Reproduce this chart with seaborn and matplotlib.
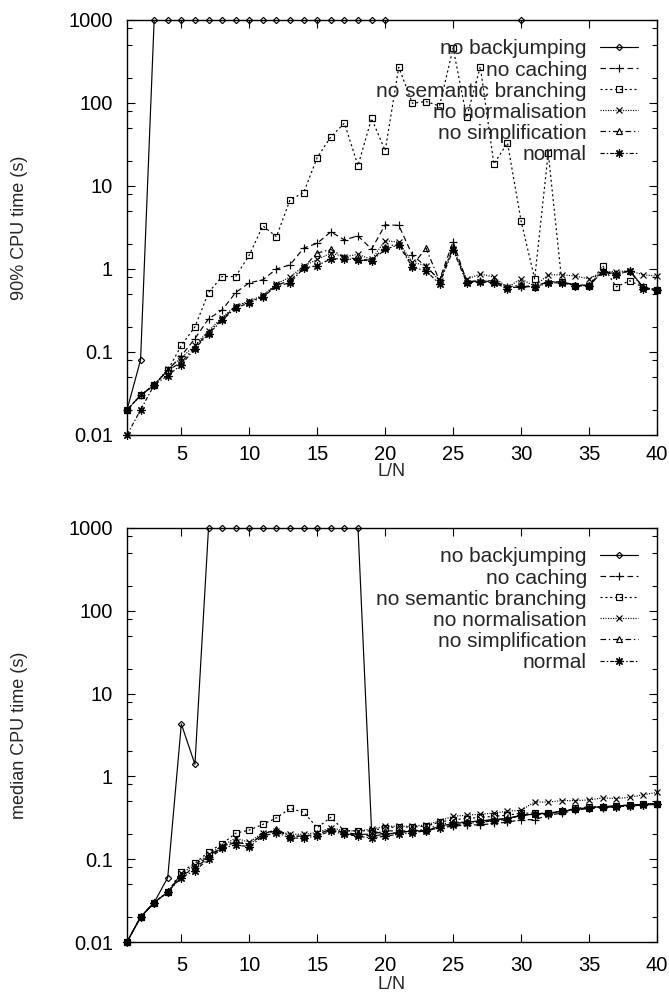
import matplotlib
matplotlib.use("Agg")
import matplotlib.pyplot as plt
from matplotlib.lines import Line2D
from matplotlib.ticker import LogLocator, FuncFormatter, NullFormatter, MultipleLocator
import numpy as np
import pandas as pd
import seaborn as sns

# L/N ratio on the x axis
ratio = list(range(1, 41))

# 90% CPU time (s); values above 1000 are timeouts that run off the top
p90_no_backjumping = [0.02, 0.08, 1000, 1000, 1000, 1000, 1000, 1000, 1000, 1000,
                      1000, 1000, 1000, 1000, 1000, 1000, 1000, 1000, 1000, 1000,
                      2000, 2000, 2000, 2000, 2000, 2000, 2000, 2000, 2000, 1000,
                      2000, 2000, 2000, 2000, 2000, 2000, 2000, 2000, 2000, 2000]
p90_no_caching = [0.02, 0.03, 0.04, 0.06, 0.09, 0.145, 0.25, 0.32, 0.52, 0.68,
                  0.74, 1.0, 1.12, 1.78, 2.04, 2.8, 2.24, 2.5, 1.73, 3.4,
                  3.35, 1.47, 1.07, 0.74, 2.14, 0.7, 0.72, 0.72, 0.6, 0.6,
                  0.62, 0.7, 0.7, 0.63, 0.63, 0.93, 0.87, 0.95, 0.6, 0.56]
p90_no_semantic = [0.02, 0.03, 0.04, 0.06, 0.12, 0.2, 0.52, 0.81, 0.81, 1.47,
                   3.3, 2.45, 6.8, 8.3, 22, 39, 57, 17.6, 65, 26.6,
                   269, 99, 104, 92, 457, 67, 274, 18.4, 33, 3.8,
                   0.76, 25, 0.7, 0.63, 0.62, 1.1, 0.61, 0.72, 0.6, 0.56]
p90_no_normalisation = [0.02, 0.03, 0.04, 0.062, 0.085, 0.12, 0.18, 0.26, 0.36, 0.41,
                        0.48, 0.66, 0.8, 1.08, 1.3, 1.55, 1.4, 1.5, 1.3, 2.2,
                        2.1, 1.2, 1.1, 0.72, 1.75, 0.75, 0.87, 0.8, 0.6, 0.76,
                        0.62, 0.85, 0.85, 0.82, 0.76, 0.93, 0.93, 0.95, 0.85, 0.82]
p90_no_simplification = [0.02, 0.03, 0.04, 0.06, 0.075, 0.115, 0.17, 0.25, 0.35, 0.4,
                         0.47, 0.64, 0.72, 1.05, 1.55, 1.72, 1.38, 1.32, 1.27, 1.85,
                         2.0, 1.1, 1.78, 0.72, 1.8, 0.7, 0.72, 0.7, 0.6, 0.65,
                         0.6, 0.7, 0.7, 0.64, 0.64, 0.95, 0.87, 0.95, 0.6, 0.56]
p90_normal = [0.01, 0.02, 0.04, 0.052, 0.07, 0.11, 0.165, 0.24, 0.34, 0.39,
              0.46, 0.62, 0.68, 1.02, 1.1, 1.32, 1.33, 1.28, 1.25, 1.72,
              1.95, 1.05, 0.95, 0.66, 1.7, 0.68, 0.7, 0.68, 0.58, 0.63,
              0.6, 0.68, 0.68, 0.63, 0.63, 0.92, 0.85, 0.95, 0.58, 0.55]

# median CPU time (s)
med_no_backjumping = [0.01, 0.02, 0.03, 0.06, 4.3, 1.4, 1000, 1000, 1000, 1000,
                      1000, 1000, 1000, 1000, 1000, 1000, 1000, 1000, 0.22, 0.2,
                      0.21, 0.22, 0.22, 0.25, 0.27, 0.28, 0.29, 0.3, 0.31, 0.34,
                      0.35, 0.36, 0.38, 0.4, 0.42, 0.43, 0.44, 0.45, 0.46, 0.47]
med_no_caching = [0.01, 0.02, 0.03, 0.04, 0.063, 0.078, 0.105, 0.14, 0.16, 0.15,
                  0.2, 0.22, 0.19, 0.19, 0.2, 0.23, 0.2, 0.2, 0.19, 0.2,
                  0.21, 0.22, 0.22, 0.24, 0.25, 0.26, 0.26, 0.27, 0.28, 0.3,
                  0.3, 0.34, 0.36, 0.39, 0.41, 0.42, 0.43, 0.44, 0.45, 0.46]
med_no_semantic = [0.01, 0.02, 0.03, 0.04, 0.071, 0.089, 0.123, 0.153, 0.206, 0.225,
                   0.263, 0.316, 0.41, 0.37, 0.24, 0.32, 0.22, 0.22, 0.22, 0.24,
                   0.245, 0.245, 0.25, 0.28, 0.3, 0.31, 0.32, 0.33, 0.34, 0.36,
                   0.36, 0.36, 0.38, 0.41, 0.43, 0.43, 0.44, 0.45, 0.46, 0.47]
med_no_normalisation = [0.01, 0.02, 0.03, 0.04, 0.068, 0.085, 0.115, 0.145, 0.18, 0.16,
                        0.21, 0.22, 0.2, 0.2, 0.21, 0.24, 0.22, 0.22, 0.23, 0.25,
                        0.25, 0.25, 0.26, 0.29, 0.33, 0.34, 0.35, 0.36, 0.38, 0.39,
                        0.49, 0.49, 0.51, 0.51, 0.52, 0.55, 0.54, 0.56, 0.6, 0.64]
med_no_simplification = [0.01, 0.02, 0.03, 0.04, 0.065, 0.08, 0.11, 0.14, 0.17, 0.15,
                         0.2, 0.23, 0.19, 0.19, 0.2, 0.23, 0.21, 0.2, 0.2, 0.22,
                         0.22, 0.22, 0.23, 0.26, 0.28, 0.28, 0.29, 0.3, 0.31, 0.34,
                         0.35, 0.36, 0.38, 0.4, 0.42, 0.43, 0.44, 0.45, 0.46, 0.47]
med_normal = [0.01, 0.02, 0.03, 0.04, 0.06, 0.073, 0.1, 0.135, 0.15, 0.14,
              0.19, 0.21, 0.18, 0.18, 0.19, 0.22, 0.2, 0.19, 0.18, 0.19,
              0.2, 0.21, 0.22, 0.24, 0.26, 0.27, 0.28, 0.29, 0.3, 0.34,
              0.35, 0.35, 0.38, 0.4, 0.42, 0.43, 0.43, 0.44, 0.45, 0.46]

labels = ["no backjumping", "no caching", "no semantic branching",
          "no normalisation", "no simplification", "normal"]

# gnuplot-like line types
styles = {
    "no backjumping": dict(ls="-", marker="D", ms=3.2),
    "no caching": dict(ls=(0, (4, 2.5)), marker="+", ms=6),
    "no semantic branching": dict(ls=(0, (1.5, 2)), marker="s", ms=4.5),
    "no normalisation": dict(ls=(0, (0.8, 1)), marker="x", ms=4.5),
    "no simplification": dict(ls=(0, (4, 2, 1, 2)), marker="^", ms=4.5),
    "normal": dict(ls=(0, (3, 1.5, 1, 1.5)), marker=(8, 2, 0), ms=6),
}

sns.set_style("ticks")
plt.rcParams["font.family"] = ["Liberation Sans", "DejaVu Sans"]
plt.rcParams["lines.scale_dashes"] = False

YMAX = 1000


def draw_panel(ax, series, ylabel, xpad, xlabelpad):
    for name, vals in zip(labels, series):
        st = styles[name]
        df = pd.DataFrame({"x": ratio, "y": vals})
        # connecting line, clipped at the top of the axes
        sns.lineplot(data=df, x="x", y="y", ax=ax, color="black", lw=0.85,
                     linestyle=st["ls"], errorbar=None, legend=False)
        # markers only where the value is inside the plotted range
        shown = df[df["y"] <= YMAX]
        sns.lineplot(data=shown, x="x", y="y", ax=ax, color="black", lw=0,
                     linestyle="none", marker=st["marker"], markersize=st["ms"],
                     markerfacecolor="none", markeredgecolor="black",
                     markeredgewidth=0.85, errorbar=None, legend=False,
                     clip_on=False)

    ax.set_yscale("log")
    ax.set_xlim(1, 40)
    ax.set_ylim(0.01, YMAX)
    ax.xaxis.set_major_locator(MultipleLocator(5))
    ax.yaxis.set_major_locator(LogLocator(base=10, numticks=10))
    ax.yaxis.set_minor_locator(LogLocator(base=10, subs=[2, 5, 8], numticks=10))
    ax.yaxis.set_major_formatter(FuncFormatter(lambda v, p: f"{v:g}"))
    ax.yaxis.set_minor_formatter(NullFormatter())
    ax.tick_params(which="both", direction="in", top=True, right=True,
                   width=0.8, colors="black", labelsize=14.5)
    ax.tick_params(which="major", length=6)
    ax.tick_params(which="minor", length=3.5)
    ax.tick_params(axis="y", pad=10)
    ax.tick_params(axis="x", pad=xpad)
    for sp in ax.spines.values():
        sp.set_visible(True)
        sp.set_linewidth(1.0)
        sp.set_color("black")

    ax.set_xlabel("L/N", fontsize=13, labelpad=xlabelpad)
    ax.set_ylabel(ylabel, fontsize=13)
    ax.yaxis.set_label_coords(-0.187, 0.5)

    handles = [Line2D([], [], color="black", lw=0.85, linestyle=styles[n]["ls"],
                      marker=styles[n]["marker"], markersize=styles[n]["ms"],
                      markerfacecolor="none", markeredgewidth=0.85)
               for n in labels]
    ax.legend(handles, labels, loc="upper right", bbox_to_anchor=(0.964, 0.953),
              frameon=False, markerfirst=False, fontsize=15, borderpad=0,
              borderaxespad=0, handlelength=1.8, handletextpad=0.65,
              labelspacing=0.1, numpoints=1)


fig = plt.figure(figsize=(6.69, 9.96), dpi=100)
ax_top = fig.add_axes([0.1898, 0.5633, 0.7922, 0.4167])
ax_bot = fig.add_axes([0.1898, 0.0542, 0.7922, 0.4157])

draw_panel(ax_top, [p90_no_backjumping, p90_no_caching, p90_no_semantic,
                    p90_no_normalisation, p90_no_simplification, p90_normal],
           "90% CPU time (s)", xpad=7, xlabelpad=-0.5)
draw_panel(ax_bot, [med_no_backjumping, med_no_caching, med_no_semantic,
                    med_no_normalisation, med_no_simplification, med_normal],
           "median CPU time (s)", xpad=10, xlabelpad=1)

fig.savefig("out.png", dpi=100)
